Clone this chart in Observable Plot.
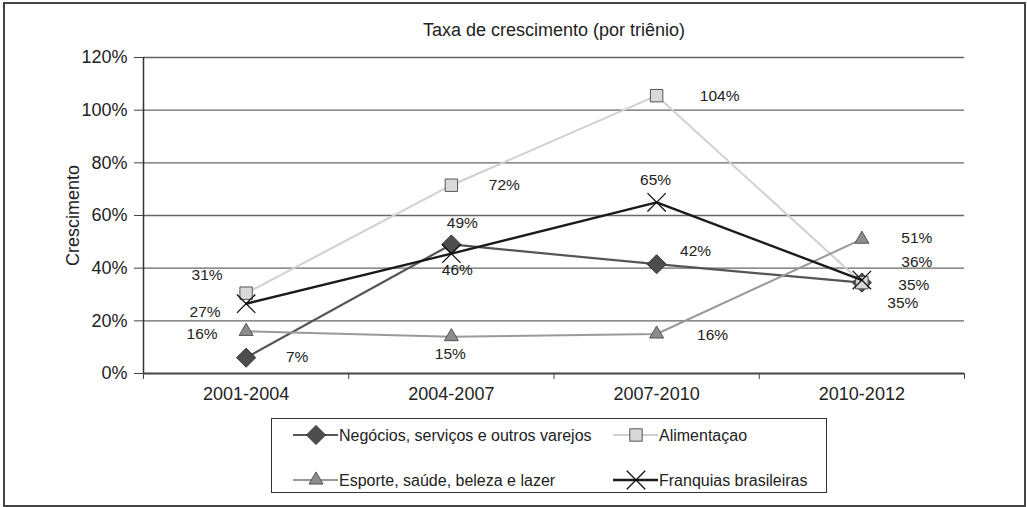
<!DOCTYPE html>
<html>
<head>
<meta charset="utf-8">
<script src="https://cdn.jsdelivr.net/npm/d3@7"></script>
<script src="https://cdn.jsdelivr.net/npm/@observablehq/plot@0.6"></script>
<style>
  html, body { margin: 0; padding: 0; background: #fff; }
  #wrap { position: relative; width: 1027px; height: 507px; font-family: "Liberation Sans", Arial, sans-serif; }
  #border { position: absolute; left: 3px; top: 2px; width: 1023px; height: 505px; box-sizing: border-box; border: 2px solid #444; pointer-events: none; }
  #legend { position: absolute; left: 271px; top: 418px; width: 556px; height: 75px; box-sizing: border-box; border: 1.5px solid #333; background: #fff; }
</style>
</head>
<body>
<div id="wrap"><div id="chart"></div><div id="legend"></div><div id="border"></div></div>
<script>
// ---- Data ----
const categories = ["2001-2004", "2004-2007", "2007-2010", "2010-2012"];
const seriesNames = ["Negócios, serviços e outros varejos", "Alimentaçao", "Esporte, saúde, beleza e lazer", "Franquias brasileiras"];
const negocios    = [6, 49, 41.5, 34.5];
const alimentacao = [30.5, 71.5, 105.5, 34.5];
const esporte     = [16, 14, 15, 51];
const franquias   = [26.5, 45.5, 65, 35.5];
const negociosLabels    = ["7%", "49%", "42%", "35%"];
const alimentacaoLabels = ["31%", "72%", "104%", "35%"];
const esporteLabels     = ["16%", "15%", "16%", "51%"];
const franquiasLabels   = ["27%", "46%", "65%", "36%"];
const yTicks = [0, 20, 40, 60, 80, 100, 120];
const titleText = "Taxa de crescimento (por triênio)";
const yLabelText = "Crescimento";

// ---- Styles / layout (not data) ----
const styles = [
  {line: "#555", lw: 2.2, symbol: "diamond2", r: 8.6, fill: "#4d4d4d", stroke: "#333",
   nudge: [[51, -1], [11, -21], [39, -13], [41, 20]]},
  {line: "#d0d0d0", lw: 2, symbol: "square", r: 7, fill: "#d9d9d9", stroke: "#555",
   nudge: [[-39, -18], [53, 0], [63, 0], [52, 2]]},
  {line: "#999", lw: 2, symbol: "triangle", r: 5.2, fill: "#8c8c8c", stroke: "#555",
   nudge: [[-44, 3], [-1, 17], [56, 1], [55, -1]]},
  {line: "#1a1a1a", lw: 2.4, symbol: "times", r: 8.4, fill: "none", stroke: "#111",
   nudge: [[-41, 8], [6, 16], [-1, -22], [55, -18]]}
];

const valueSets = [negocios, alimentacao, esporte, franquias];
const labelSets = [negociosLabels, alimentacaoLabels, esporteLabels, franquiasLabels];

const font = '"Liberation Sans", Arial, sans-serif';

const marks = [
  Plot.gridY(yTicks.filter(d => d > 0), {stroke: "#666", strokeOpacity: 1, strokeWidth: 1.4}),
  Plot.axisY(yTicks, {tickSize: 9, tickPadding: 7, tickFormat: d => d + "%", fontSize: 18, stroke: "#444", label: null}),
  Plot.ruleY([0], {stroke: "#444", strokeWidth: 2}),
  Plot.ruleX([0], {stroke: "#333", strokeWidth: 1.5}),
  Plot.axisX(d3.range(categories.length + 1), {tickSize: 6, tickFormat: () => "", stroke: "#444", label: null}),
  Plot.axisX(categories.map((c, i) => i + 0.5), {tickSize: 0, tickPadding: 14, tickFormat: d => categories[Math.floor(d)], fontSize: 18, label: null}),
  Plot.text([titleText], {frameAnchor: "top", dy: -34, fontSize: 18, textAnchor: "middle", fill: "#222"}),
  Plot.text([yLabelText], {frameAnchor: "left", dx: -70, rotate: -90, fontSize: 18, textAnchor: "middle", fill: "#222"})
];

valueSets.forEach((vals, s) => {
  const st = styles[s];
  const rows = vals.map((v, i) => ({x: i + 0.5, y: v, label: labelSets[s][i], series: seriesNames[s]}));
  marks.push(Plot.line(rows, {x: "x", y: "y", stroke: st.line, strokeWidth: st.lw}));
  marks.push(Plot.dot(rows, {x: "x", y: "y", symbol: st.symbol, r: st.r, fill: st.fill, stroke: st.stroke, strokeWidth: st.symbol === "times" ? 1.3 : 1}));
  rows.forEach((row, i) => {
    marks.push(Plot.text([row], {x: "x", y: "y", text: "label", dx: st.nudge[i][0], dy: st.nudge[i][1], fontSize: 15.5, fill: "#222"}));
  });
});

const chart = Plot.plot({
  width: 1027,
  height: 507,
  marginLeft: 143,
  marginRight: 63,
  marginTop: 57,
  marginBottom: 134,
  style: {fontFamily: font, fontSize: "18px", color: "#222", background: "transparent", overflow: "visible"},
  x: {domain: [0, categories.length]},
  y: {domain: [0, 120]},
  marks
});
document.getElementById("chart").appendChild(chart);

// ---- Legend ----
const legendPos = [[22, 17], [342, 17], [22, 62], [342, 62]];
const lsvg = d3.select("#legend").append("svg")
  .attr("width", 556).attr("height", 75)
  .style("position", "absolute").style("left", "-1.5px").style("top", "-1.5px")
  .style("overflow", "visible");
const symbolMap = {diamond2: d3.symbolDiamond2, square: d3.symbolSquare, triangle: d3.symbolTriangle, times: d3.symbolTimes};
seriesNames.forEach((name, s) => {
  const st = styles[s];
  const [lx, ly] = legendPos[s];
  const g = lsvg.append("g").attr("transform", `translate(${lx},${ly})`);
  g.append("line").attr("x1", 0).attr("x2", 45).attr("y1", 0).attr("y2", 0)
    .attr("stroke", st.line).attr("stroke-width", st.lw);
  g.append("path").attr("transform", "translate(23,0)")
    .attr("d", d3.symbol(symbolMap[st.symbol], Math.PI * st.r * st.r)())
    .attr("fill", st.fill).attr("stroke", st.stroke)
    .attr("stroke-width", st.symbol === "times" ? 1.3 : 1);
  g.append("text").attr("x", 46).attr("y", 0).attr("dy", "0.35em")
    .attr("font-family", font).attr("font-size", 16).attr("fill", "#222")
    .text(name);
});
</script>
</body>
</html>
